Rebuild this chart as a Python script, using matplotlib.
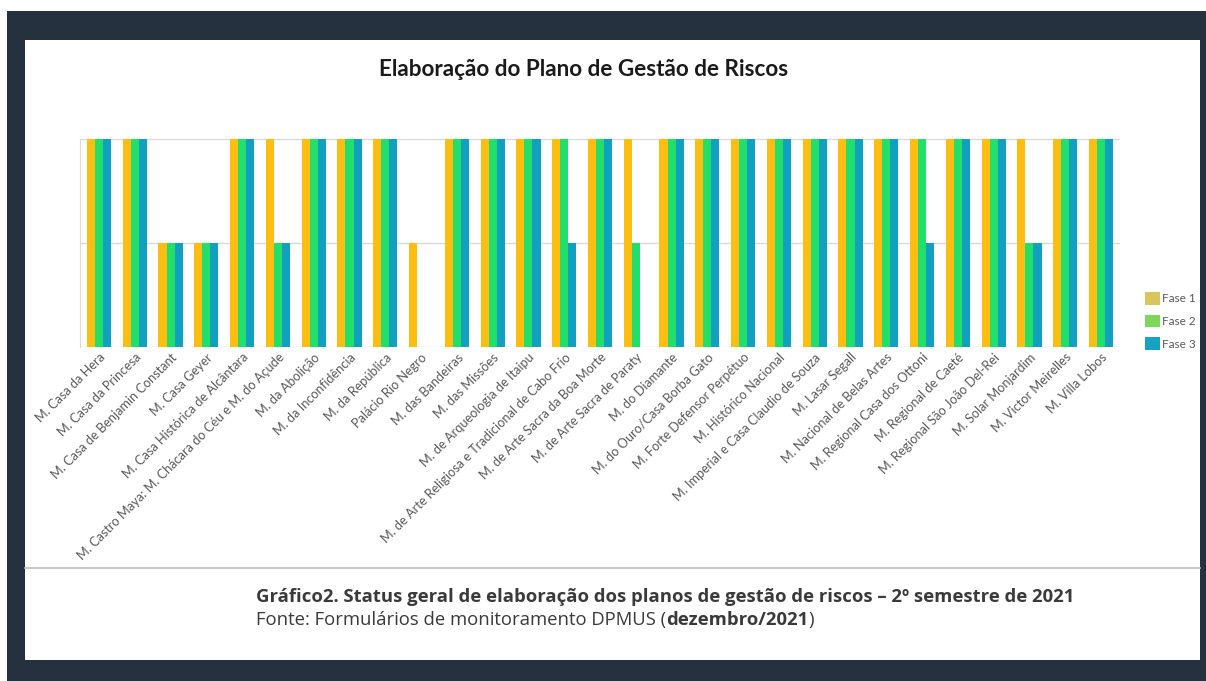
import matplotlib
matplotlib.use("Agg")
import matplotlib.pyplot as plt
import numpy as np
from matplotlib.patches import Rectangle, Patch

# data (2 = concluído, 1 = em andamento, 0 = não iniciado)
museus = [
    "M. Casa da Hera", "M. Casa da Princesa", "M. Casa de Benjamin Constant",
    "M. Casa Geyer", "M. Casa Histórica de Alcântara",
    "M. Castro Maya: M. Chácara do Céu e M. do Açude", "M. da Abolição",
    "M. da Inconfidência", "M. da República", "Palácio Rio Negro",
    "M. das Bandeiras", "M. das Missões", "M. de Arqueologia de Itaipu",
    "M. de Arte Religiosa e Tradicional de Cabo Frio",
    "M. de Arte Sacra da Boa Morte", "M. de Arte Sacra de Paraty",
    "M. do Diamante", "M. do Ouro/Casa Borba Gato", "M. Forte Defensor Perpétuo",
    "M. Histórico Nacional", "M. Imperial e Casa Claudio de Souza",
    "M. Lasar Segall", "M. Nacional de Belas Artes",
    "M. Regional Casa dos Ottoni", "M. Regional de Caeté",
    "M. Regional São João Del-Rei", "M. Solar Monjardim",
    "M. Victor Meirelles", "M. Villa Lobos",
]
fase1 = [2, 2, 1, 1, 2, 2, 2, 2, 2, 1, 2, 2, 2, 2, 2, 2, 2, 2, 2, 2, 2, 2, 2, 2, 2, 2, 2, 2, 2]
fase2 = [2, 2, 1, 1, 2, 1, 2, 2, 2, 0, 2, 2, 2, 2, 2, 1, 2, 2, 2, 2, 2, 2, 2, 2, 2, 2, 1, 2, 2]
fase3 = [2, 2, 1, 1, 2, 1, 2, 2, 2, 0, 2, 2, 2, 1, 2, 0, 2, 2, 2, 2, 2, 2, 2, 1, 2, 2, 1, 2, 2]
series_labels = ["Fase 1", "Fase 2", "Fase 3"]

bar_colors = ["#FDBE12", "#22DF6C", "#11A0BF"]
legend_colors = ["#D9C55C", "#7DD85A", "#17A2C2"]

W, H = 1206, 681
fig = plt.figure(figsize=(W / 100, H / 100), dpi=100, facecolor="white")

# dark frame and white panel
fig.patches.append(Rectangle((7 / W, 0), 1, (H - 11) / H, transform=fig.transFigure,
                             facecolor="#263140", edgecolor="none", zorder=-2))
fig.patches.append(Rectangle((25 / W, (H - 660) / H), (1200 - 25) / W, (660 - 40) / H,
                             transform=fig.transFigure, facecolor="white",
                             edgecolor="none", zorder=-1))

ax = fig.add_axes([80 / W, (H - 347) / H, (1120 - 80) / W, (347 - 139) / H])
x = np.arange(len(museus))
bw = 0.225
for i, vals in enumerate([fase1, fase2, fase3]):
    ax.bar(x + (i - 1) * bw, vals, width=bw, color=bar_colors[i], zorder=3)

ax.set_xlim(-0.53, len(museus) - 0.47)
ax.set_ylim(0, 2)
ax.set_yticks([0, 1, 2])
ax.set_yticklabels([])
ax.tick_params(axis="y", length=0)
ax.tick_params(axis="x", length=0, pad=3)
ax.grid(axis="y", color="#d9d9d9", linewidth=1, zorder=0)
for s in ["top", "right", "bottom"]:
    ax.spines[s].set_visible(False)
ax.spines["left"].set_color("#d9d9d9")
ax.set_xticks(x)
ax.set_xticklabels(museus, rotation=45, ha="right", rotation_mode="anchor",
                   fontsize=9.2, color="#595959", family="Lato")

fig.text(584 / W, (H - 70) / H, "Elaboração do Plano de Gestão de Riscos",
         ha="center", va="center", fontsize=16.2, fontweight="bold",
         family="Lato", color="#1a1a1a")

handles = [Patch(facecolor=c, edgecolor="none") for c in legend_colors]
fig.legend(handles, series_labels, loc="center left",
           bbox_to_anchor=(1134 / W, (H - 321) / H), frameon=False,
           handlelength=1.3, handleheight=1.3, handletextpad=0.15,
           labelspacing=0.85, labelcolor="#595959", prop={"family": "Lato", "size": 8.5})

# caption
fig.add_artist(plt.Line2D([25 / W, 1200 / W], [(H - 568) / H] * 2,
                          color="#bdbdbd", linewidth=1.2))
fig.text(256 / W, (H - 597) / H,
         "Gráfico2. Status geral de elaboração dos planos de gestão de riscos – 2º semestre de 2021",
         ha="left", va="center", fontsize=13.3, fontweight="bold", color="#3a3a3a",
         family="Open Sans")
t1 = fig.text(256 / W, (H - 620) / H, "Fonte: Formulários de monitoramento DPMUS (",
              ha="left", va="center", fontsize=13.3, color="#3a3a3a", family="Open Sans")
a2 = plt.annotate("dezembro/2021", xy=(1, 0), xycoords=t1, va="bottom", ha="left",
                  fontsize=13.3, fontweight="bold", color="#3a3a3a", family="Open Sans",
                  annotation_clip=False)
plt.annotate(")", xy=(1, 0), xycoords=a2, va="bottom", ha="left",
             fontsize=13.3, color="#3a3a3a", family="Open Sans", annotation_clip=False)

fig.savefig("out.png", dpi=100, facecolor=fig.get_facecolor())
